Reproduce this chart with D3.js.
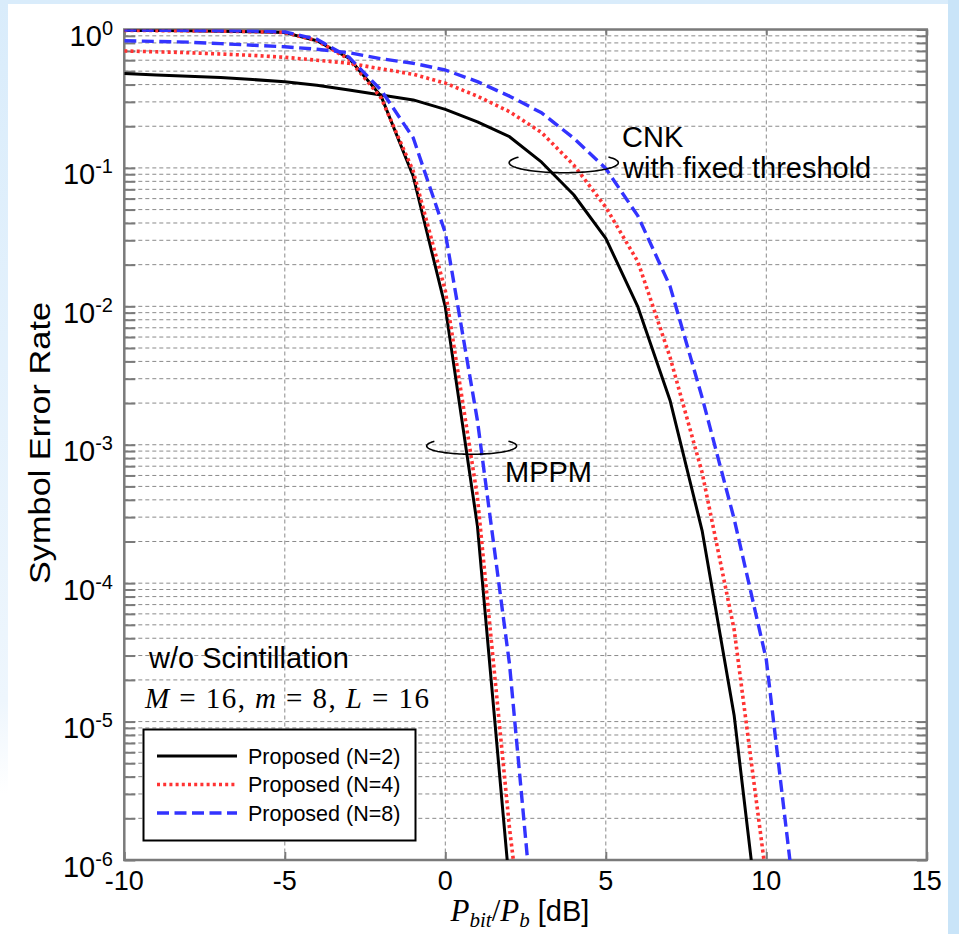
<!DOCTYPE html>
<html>
<head>
<meta charset="utf-8">
<script src="https://cdn.jsdelivr.net/npm/d3@7"></script>
<style>
  body { margin: 0; }
  svg { display: block; }
</style>
</head>
<body>
<div id="chart"></div>
<script>
// x values (dB)
const snrMppm = [-10, -9, -8, -7, -6, -5, -4, -3, -2, -1, 0, 1, 2, 3]
const snrCnk = [-10, -9, -8, -7, -6, -5, -4, -3, -2, -1, 0, 1, 2, 3, 4, 5, 6, 7, 8, 9, 10, 11]

// MPPM symbol error rate
const mppmN2 = [0.985, 0.982, 0.978, 0.972, 0.965, 0.95, 0.83, 0.62, 0.33, 0.087, 0.0099, 2.6e-4, 6.5e-7, null]
const mppmN4 = [0.985, 0.982, 0.978, 0.972, 0.965, 0.95, 0.83, 0.61, 0.32, 0.095, 0.013, 4.2e-4, 1.7e-6, 2e-8]
const mppmN8 = [0.99, 0.988, 0.985, 0.98, 0.975, 0.96, 0.85, 0.63, 0.365, 0.165, 0.034, 1.5e-3, 2.6e-5, 8e-8]

// CNK with fixed threshold
const cnkN2 = [0.48, 0.47, 0.46, 0.45, 0.435, 0.42, 0.395, 0.365, 0.336, 0.31, 0.265, 0.215, 0.168, 0.11, 0.064, 0.031, 0.0099, 2.1e-3, 2.4e-4, 1.1e-5, 1.2e-7, null]
const cnkN4 = [0.70, 0.69, 0.68, 0.665, 0.65, 0.63, 0.60, 0.57, 0.52, 0.475, 0.41, 0.33, 0.255, 0.18, 0.105, 0.052, 0.021, 4.3e-3, 6.3e-4, 4.6e-5, 7.4e-7, null]
const cnkN8 = [0.83, 0.82, 0.81, 0.79, 0.77, 0.75, 0.72, 0.68, 0.615, 0.57, 0.51, 0.42, 0.33, 0.25, 0.164, 0.099, 0.045, 0.014, 2.2e-3, 2.9e-4, 2.8e-5, 3e-7]

const xTicks = [-10, -5, 0, 5, 10, 15]
const yExponents = [0, -1, -2, -3, -4, -5, -6]
const legendLabels = ['Proposed (N=2)', 'Proposed (N=4)', 'Proposed (N=8)']

const width = 959
const height = 934
const margin = { left: 124.3, top: 29.5, right: 959 - 926.8, bottom: 934 - 860 }

const styles = [
  { color: '#000000', dash: null, w: 3 },
  { color: '#ff3333', dash: '3,3.2', w: 3.6 },
  { color: '#3333ff', dash: '12,5.5', w: 3.4 }
]

const svg = d3.select('#chart').append('svg')
  .attr('width', width)
  .attr('height', height)

// page background
const defs = svg.append('defs')
const grad = defs.append('linearGradient').attr('id', 'bg').attr('x1', 0).attr('y1', 0).attr('x2', 0).attr('y2', 1)
grad.append('stop').attr('offset', '0%').attr('stop-color', '#d9ecfb')
grad.append('stop').attr('offset', '75%').attr('stop-color', '#eef6fd')
grad.append('stop').attr('offset', '85%').attr('stop-color', '#ffffff')
svg.append('rect').attr('width', width).attr('height', height).attr('fill', 'url(#bg)')
svg.append('rect').attr('x', 948).attr('y', 0).attr('width', 11).attr('height', height).attr('fill', '#c9e4f8')
svg.append('rect').attr('x', 8).attr('y', 4).attr('width', 940).attr('height', height - 4).attr('fill', '#ffffff')

const x = d3.scaleLinear().domain([-10, 15]).range([margin.left, width - margin.right])
const y = d3.scaleLog().domain([1e-6, 1]).range([height - margin.bottom, margin.top])

defs.append('clipPath').attr('id', 'plot')
  .append('rect')
  .attr('x', x(-10)).attr('y', y(1))
  .attr('width', x(15) - x(-10)).attr('height', y(1e-6) - y(1))

const gridColor = '#8a8a8a'
const axisColor = '#7a7a7a'

// log tick values: 1..9 x 10^k
const logTicks = []
for (let e = -6; e < 0; e++) {
  for (let m = 1; m < 10; m++) logTicks.push(m * Math.pow(10, e))
}
logTicks.push(1)

// horizontal grid
svg.append('g')
  .selectAll('line')
  .data(logTicks.filter(v => v > 1e-6 && v < 1))
  .join('line')
  .attr('x1', x(-10)).attr('x2', x(15))
  .attr('y1', d => y(d)).attr('y2', d => y(d))
  .attr('stroke', gridColor).attr('stroke-width', 1)
  .attr('stroke-dasharray', '4,3')

// vertical grid
svg.append('g')
  .selectAll('line')
  .data(xTicks.slice(1, -1))
  .join('line')
  .attr('x1', d => x(d)).attr('x2', d => x(d))
  .attr('y1', y(1)).attr('y2', y(1e-6))
  .attr('stroke', gridColor).attr('stroke-width', 1)
  .attr('stroke-dasharray', '4,3')

// axes (ticks inside, no labels – labels drawn separately)
const yLeft = d3.axisLeft(y).tickValues(logTicks).tickSize(-11).tickFormat('')
const yRight = d3.axisRight(y).tickValues(logTicks).tickSize(-10).tickFormat('')
const xBottom = d3.axisBottom(x).tickValues(xTicks).tickSize(-8).tickFormat('')
const xTop = d3.axisTop(x).tickValues(xTicks).tickSize(-6).tickFormat('')

function styleAxis (g) {
  g.select('.domain').remove()
  g.selectAll('.tick line').attr('stroke', axisColor).attr('stroke-width', 2)
}
svg.append('g').attr('transform', `translate(${x(-10)},0)`).call(yLeft).call(styleAxis)
svg.append('g').attr('transform', `translate(${x(15)},0)`).call(yRight).call(styleAxis)
svg.append('g').attr('transform', `translate(0,${y(1e-6)})`).call(xBottom).call(styleAxis)
svg.append('g').attr('transform', `translate(0,${y(1)})`).call(xTop).call(styleAxis)

// frame
svg.append('rect')
  .attr('x', x(-10)).attr('y', y(1))
  .attr('width', x(15) - x(-10)).attr('height', y(1e-6) - y(1))
  .attr('fill', 'none').attr('stroke', axisColor).attr('stroke-width', 2.5)

const sans = 'Liberation Sans, Arial, Helvetica, sans-serif'
const serif = 'Liberation Serif, Times New Roman, serif'

// y tick labels 10^k
const yLab = svg.append('g').attr('font-family', sans).attr('fill', '#000')
yExponents.forEach(e => {
  const t = yLab.append('text')
    .attr('x', 113).attr('y', y(Math.pow(10, e)) + 16.5)
    .attr('text-anchor', 'end')
    .attr('font-size', 29)
  t.append('tspan').text('10')
  t.append('tspan').attr('dy', -11).attr('font-size', 20).text(String(e))
})

// x tick labels
svg.append('g')
  .selectAll('text')
  .data(xTicks)
  .join('text')
  .attr('x', d => x(d)).attr('y', 890)
  .attr('text-anchor', 'middle')
  .attr('font-family', sans).attr('font-size', 27)
  .text(d => String(d))

// axis titles
svg.append('text')
  .attr('transform', 'translate(50,443) rotate(-90)')
  .attr('text-anchor', 'middle')
  .attr('font-family', sans).attr('font-size', 30)
  .attr('textLength', 282).attr('lengthAdjust', 'spacingAndGlyphs')
  .text('Symbol Error Rate')

const xt = svg.append('text')
  .attr('x', 520).attr('y', 921)
  .attr('text-anchor', 'middle')
  .attr('font-size', 31)
xt.append('tspan').attr('font-family', serif).attr('font-style', 'italic').text('P')
xt.append('tspan').attr('font-family', serif).attr('font-style', 'italic').attr('font-size', 21).attr('dy', 6).text('bit')
xt.append('tspan').attr('font-family', serif).attr('dy', -6).text('/')
xt.append('tspan').attr('font-family', serif).attr('font-style', 'italic').text('P')
xt.append('tspan').attr('font-family', serif).attr('font-style', 'italic').attr('font-size', 21).attr('dy', 6).text('b')
xt.append('tspan').attr('font-family', sans).attr('font-size', 29).attr('dy', -6).text(' [dB]')

// curves
const line = d3.line()
  .defined(d => d[1] != null)
  .x(d => x(d[0]))
  .y(d => y(d[1]))

const series = [
  { xs: snrMppm, ys: mppmN2, s: 0 },
  { xs: snrCnk, ys: cnkN2, s: 0 },
  { xs: snrMppm, ys: mppmN4, s: 1 },
  { xs: snrCnk, ys: cnkN4, s: 1 },
  { xs: snrMppm, ys: mppmN8, s: 2 },
  { xs: snrCnk, ys: cnkN8, s: 2 }
]

const curves = svg.append('g').attr('clip-path', 'url(#plot)')
series.forEach(sr => {
  const st = styles[sr.s]
  curves.append('path')
    .datum(sr.xs.map((v, i) => [v, sr.ys[i]]))
    .attr('d', line)
    .attr('fill', 'none')
    .attr('stroke', st.color)
    .attr('stroke-width', st.w)
    .attr('stroke-dasharray', st.dash)
    .attr('stroke-linejoin', 'round')
})

// bracket ellipses (open at top)
function openEllipse (cxData, cyData, rxData, ry) {
  const cx = x(cxData)
  const cy = y(cyData)
  const rx = x(cxData + rxData) - cx
  const angles = d3.range(-35, 216, 3).map(a => a * Math.PI / 180)
  return d3.line()(angles.map(a => [cx + rx * Math.cos(a), cy + ry * Math.sin(a)]))
}
svg.append('path')
  .attr('d', openEllipse(3.69, 0.109, 1.7, 10))
  .attr('fill', 'none').attr('stroke', '#000').attr('stroke-width', 1.6)
svg.append('path')
  .attr('d', openEllipse(0.82, 9.8e-4, 1.4, 8.3))
  .attr('fill', 'none').attr('stroke', '#000').attr('stroke-width', 1.6)

// annotations
const ann = svg.append('g').attr('font-family', sans).attr('font-size', 29).attr('fill', '#000')
ann.append('text').attr('x', 622).attr('y', 147).text('CNK')
ann.append('text').attr('x', 623).attr('y', 178).text('with fixed threshold')
ann.append('text').attr('x', 505).attr('y', 482).text('MPPM')
ann.append('text').attr('x', 149).attr('y', 668).text('w/o Scintillation')

const mt = svg.append('text')
  .attr('x', 145).attr('y', 708)
  .attr('font-family', serif).attr('font-size', 29)
  .attr('textLength', 284).attr('lengthAdjust', 'spacing')
mt.append('tspan').attr('font-style', 'italic').text('M')
mt.append('tspan').text(' = 16, ')
mt.append('tspan').attr('font-style', 'italic').text('m')
mt.append('tspan').text(' = 8, ')
mt.append('tspan').attr('font-style', 'italic').text('L')
mt.append('tspan').text(' = 16')

// legend
const lg = svg.append('g')
lg.append('rect')
  .attr('x', 143.5).attr('y', 729.5).attr('width', 272).attr('height', 111)
  .attr('fill', '#fff').attr('stroke', '#000').attr('stroke-width', 2)
legendLabels.forEach((lab, i) => {
  const st = styles[i]
  const yy = 756 + i * 28.5
  lg.append('line')
    .attr('x1', 157).attr('x2', 237).attr('y1', yy).attr('y2', yy)
    .attr('stroke', st.color).attr('stroke-width', st.w)
    .attr('stroke-dasharray', st.dash)
  lg.append('text')
    .attr('x', 248).attr('y', yy + 7.5)
    .attr('font-family', sans).attr('font-size', 21.5)
    .text(lab)
})
</script>
</body>
</html>
